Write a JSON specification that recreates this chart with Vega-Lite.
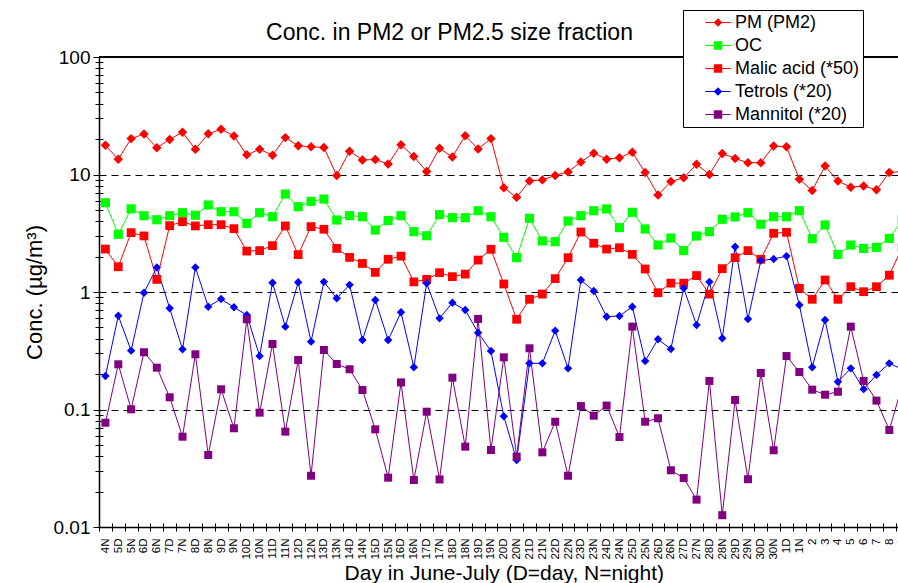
{
 "$schema": "https://vega.github.io/schema/vega-lite/v6.json",
 "width": 799,
 "height": 470,
 "autosize": {"type": "none"},
 "padding": {"left": 99, "top": 57, "right": 0, "bottom": 56},
 "background": "white",
 "config": {"view": {"stroke": null}, "font": "Liberation Sans", "axis": {"labelFont": "Liberation Sans", "titleFont": "Liberation Sans", "labelColor": "black", "titleColor": "black", "titleFontWeight": "normal", "domainColor": "black", "tickColor": "black"}},
 "title": {"text": "Conc. in PM2 or PM2.5 size fraction", "fontSize": 23, "fontWeight": "normal", "font": "Liberation Sans", "color": "black", "anchor": "middle", "frame": "group", "dx": -49, "offset": -35},
 "data": {"values": [
  {"day":"4N","PM":17.7,"OC":5.75,"Malic":2.32,"Tetrols":0.193,"Mannitol":0.0772},
  {"day":"5D","PM":13.5,"OC":3.1,"Malic":1.64,"Tetrols":0.628,"Mannitol":0.2425},
  {"day":"5N","PM":20.2,"OC":5.1,"Malic":3.2,"Tetrols":0.317,"Mannitol":0.1004},
  {"day":"6D","PM":22.1,"OC":4.46,"Malic":3.0,"Tetrols":0.986,"Mannitol":0.307},
  {"day":"6N","PM":16.9,"OC":4.12,"Malic":1.28,"Tetrols":1.62,"Mannitol":0.227},
  {"day":"7D","PM":19.9,"OC":4.46,"Malic":3.67,"Tetrols":0.727,"Mannitol":0.127},
  {"day":"7N","PM":22.9,"OC":4.73,"Malic":3.97,"Tetrols":0.325,"Mannitol":0.0587},
  {"day":"8D","PM":16.4,"OC":4.5,"Malic":3.65,"Tetrols":1.62,"Mannitol":0.295},
  {"day":"8N","PM":22.2,"OC":5.5,"Malic":3.74,"Tetrols":0.75,"Mannitol":0.041},
  {"day":"9D","PM":24.3,"OC":4.82,"Malic":3.74,"Tetrols":0.872,"Mannitol":0.1486},
  {"day":"9N","PM":21.3,"OC":4.82,"Malic":3.46,"Tetrols":0.741,"Mannitol":0.0692},
  {"day":"10D","PM":14.7,"OC":3.84,"Malic":2.23,"Tetrols":0.637,"Mannitol":0.586},
  {"day":"10N","PM":16.4,"OC":4.73,"Malic":2.25,"Tetrols":0.285,"Mannitol":0.094},
  {"day":"11D","PM":14.6,"OC":4.37,"Malic":2.48,"Tetrols":1.2,"Mannitol":0.361},
  {"day":"11N","PM":20.6,"OC":6.82,"Malic":3.65,"Tetrols":0.507,"Mannitol":0.0648},
  {"day":"12D","PM":17.6,"OC":5.32,"Malic":2.08,"Tetrols":1.21,"Mannitol":0.264},
  {"day":"12N","PM":17.2,"OC":5.91,"Malic":3.6,"Tetrols":0.378,"Mannitol":0.0273},
  {"day":"13D","PM":17.0,"OC":6.18,"Malic":3.42,"Tetrols":1.22,"Mannitol":0.321},
  {"day":"13N","PM":9.8,"OC":4.1,"Malic":2.35,"Tetrols":0.884,"Mannitol":0.244},
  {"day":"14D","PM":15.8,"OC":4.46,"Malic":1.97,"Tetrols":1.15,"Mannitol":0.22},
  {"day":"14N","PM":13.3,"OC":4.37,"Malic":1.75,"Tetrols":0.39,"Mannitol":0.1466},
  {"day":"15D","PM":13.4,"OC":3.37,"Malic":1.47,"Tetrols":0.855,"Mannitol":0.0678},
  {"day":"15N","PM":12.3,"OC":4.06,"Malic":1.9,"Tetrols":0.39,"Mannitol":0.0263},
  {"day":"16D","PM":17.9,"OC":4.46,"Malic":2.02,"Tetrols":0.672,"Mannitol":0.17},
  {"day":"16N","PM":14.2,"OC":3.26,"Malic":1.22,"Tetrols":0.229,"Mannitol":0.0251},
  {"day":"17D","PM":10.6,"OC":3.01,"Malic":1.28,"Tetrols":1.186,"Mannitol":0.0958},
  {"day":"17N","PM":16.7,"OC":4.55,"Malic":1.46,"Tetrols":0.597,"Mannitol":0.0254},
  {"day":"18D","PM":14.1,"OC":4.29,"Malic":1.35,"Tetrols":0.811,"Mannitol":0.1866},
  {"day":"18N","PM":21.4,"OC":4.29,"Malic":1.42,"Tetrols":0.703,"Mannitol":0.0483},
  {"day":"19D","PM":16.5,"OC":4.92,"Malic":1.87,"Tetrols":0.45,"Mannitol":0.59},
  {"day":"19N","PM":20.2,"OC":4.37,"Malic":2.31,"Tetrols":0.315,"Mannitol":0.0452},
  {"day":"20D","PM":7.7,"OC":2.92,"Malic":1.17,"Tetrols":0.0875,"Mannitol":0.278},
  {"day":"20N","PM":6.4,"OC":1.96,"Malic":0.586,"Tetrols":0.0372,"Mannitol":0.0397},
  {"day":"21D","PM":8.8,"OC":4.24,"Malic":0.867,"Tetrols":0.247,"Mannitol":0.332},
  {"day":"21N","PM":9.0,"OC":2.72,"Malic":0.96,"Tetrols":0.247,"Mannitol":0.0432},
  {"day":"22D","PM":9.8,"OC":2.68,"Malic":1.3,"Tetrols":0.469,"Mannitol":0.0787},
  {"day":"22N","PM":10.5,"OC":4.02,"Malic":1.96,"Tetrols":0.224,"Mannitol":0.0273},
  {"day":"23D","PM":12.8,"OC":4.46,"Malic":3.24,"Tetrols":1.265,"Mannitol":0.107},
  {"day":"23N","PM":15.2,"OC":4.92,"Malic":2.6,"Tetrols":1.02,"Mannitol":0.0886},
  {"day":"24D","PM":13.5,"OC":5.09,"Malic":2.32,"Tetrols":0.616,"Mannitol":0.108},
  {"day":"24N","PM":13.9,"OC":3.53,"Malic":2.38,"Tetrols":0.625,"Mannitol":0.0583},
  {"day":"25D","PM":15.5,"OC":4.77,"Malic":2.09,"Tetrols":0.75,"Mannitol":0.507},
  {"day":"25N","PM":10.4,"OC":3.44,"Malic":1.57,"Tetrols":0.259,"Mannitol":0.0787},
  {"day":"26D","PM":6.7,"OC":2.51,"Malic":0.986,"Tetrols":0.396,"Mannitol":0.0842},
  {"day":"26N","PM":8.7,"OC":2.88,"Malic":1.19,"Tetrols":0.327,"Mannitol":0.0304},
  {"day":"27D","PM":9.4,"OC":2.25,"Malic":1.19,"Tetrols":1.075,"Mannitol":0.0261},
  {"day":"27N","PM":12.2,"OC":3.0,"Malic":1.38,"Tetrols":0.524,"Mannitol":0.0171},
  {"day":"28D","PM":10.0,"OC":3.26,"Malic":0.96,"Tetrols":1.22,"Mannitol":0.175},
  {"day":"28N","PM":15.1,"OC":4.16,"Malic":1.58,"Tetrols":0.404,"Mannitol":0.0126},
  {"day":"29D","PM":13.7,"OC":4.35,"Malic":1.96,"Tetrols":2.43,"Mannitol":0.1205},
  {"day":"29N","PM":12.6,"OC":4.73,"Malic":2.25,"Tetrols":0.589,"Mannitol":0.0255},
  {"day":"30D","PM":12.6,"OC":3.77,"Malic":1.9,"Tetrols":1.85,"Mannitol":0.2045},
  {"day":"30N","PM":17.5,"OC":4.37,"Malic":3.16,"Tetrols":1.91,"Mannitol":0.045},
  {"day":"1D","PM":17.2,"OC":4.37,"Malic":3.22,"Tetrols":2.02,"Mannitol":0.285},
  {"day":"1N","PM":9.1,"OC":4.92,"Malic":1.075,"Tetrols":0.775,"Mannitol":0.2085},
  {"day":"2","PM":7.3,"OC":2.84,"Malic":0.867,"Tetrols":0.229,"Mannitol":0.1475},
  {"day":"3","PM":11.8,"OC":3.72,"Malic":1.265,"Tetrols":0.578,"Mannitol":0.1336},
  {"day":"4","PM":8.8,"OC":2.09,"Malic":0.867,"Tetrols":0.172,"Mannitol":0.1417},
  {"day":"5","PM":7.8,"OC":2.51,"Malic":1.11,"Tetrols":0.224,"Mannitol":0.507},
  {"day":"6","PM":8.0,"OC":2.35,"Malic":1.006,"Tetrols":0.149,"Mannitol":0.175},
  {"day":"7","PM":7.4,"OC":2.4,"Malic":1.11,"Tetrols":0.197,"Mannitol":0.119},
  {"day":"8","PM":10.4,"OC":2.86,"Malic":1.39,"Tetrols":0.247,"Mannitol":0.0669},
  {"day":"9","PM":10.6,"OC":4.1,"Malic":2.4,"Tetrols":0.22,"Mannitol":0.16}
 ]},
 "transform": [{"fold": ["PM","OC","Malic","Tetrols","Mannitol"], "as": ["s","v"]}],
 "layer": [
  {
   "mark": {"type": "line", "strokeWidth": 1},
   "encoding": {
    "x": {"field": "day", "type": "nominal", "sort": null,
     "scale": {"type": "band", "domain": ["4N","5D","5N","6D","6N","7D","7N","8D","8N","9D","9N","10D","10N","11D","11N","12D","12N","13D","13N","14D","14N","15D","15N","16D","16N","17D","17N","18D","18N","19D","19N","20D","20N","21D","21N","22D","22N","23D","23N","24D","24N","25D","25N","26D","26N","27D","27N","28D","28N","29D","29N","30D","30N","1D","1N","2","3","4","5","6","7","8","9"], "range": [0, 809.6], "paddingInner": 0, "paddingOuter": 0},
     "axis": {"orient": "bottom", "title": "Day in June-July (D=day, N=night)", "titleFontSize": 21, "titlePadding": 3, "labelAngle": 270, "labelFontSize": 11.5, "labelPadding": 7, "labelOverlap": false, "tickBand": "extent", "tickSize": 4, "tickWidth": 1, "domainWidth": 1.5, "grid": false}},
    "y": {"field": "v", "type": "quantitative",
     "scale": {"type": "log", "domain": [0.01, 100], "nice": false},
     "axis": {"orient": "left", "title": "Conc. (µg/m³)", "titleFontSize": 22, "titlePadding": 7,
      "values": [0.01,0.02,0.03,0.04,0.05,0.06,0.07,0.08,0.09,0.1,0.2,0.3,0.4,0.5,0.6,0.7,0.8,0.9,1,2,3,4,5,6,7,8,9,10,20,30,40,50,60,70,80,90,100],
      "labelExpr": "indexof([0.01,0.1,1,10,100], datum.value) >= 0 ? format(datum.value, '~g') : ''",
      "labelFontSize": 19, "labelPadding": 3, "labelOverlap": false,
      "tickSize": {"condition": {"test": "indexof([0.01,0.1,1,10,100], datum.value) >= 0", "value": 6}, "value": 4},
      "tickWidth": 1, "domainWidth": 1.5,
      "grid": true, "gridColor": "black", "gridDash": [7, 5], "gridWidth": 1,
      "gridOpacity": {"condition": {"test": "indexof([0.1,1,10], datum.value) >= 0", "value": 1}, "value": 0}}},
    "color": {"field": "s", "type": "nominal",
     "scale": {"domain": ["PM","OC","Malic","Tetrols","Mannitol"], "range": ["#FF0000","#00FF00","#FF0000","#0000FF","#800080"]},
     "legend": {"orient": "none", "legendX": 584, "legendY": -47, "title": null, "labelFontSize": 18, "labelFont": "Liberation Sans", "labelColor": "black", "labelLimit": 500, "symbolType": "M-1.5,0H1.5", "symbolSize": 289, "symbolStrokeWidth": 1, "symbolOffset": 22.5, "labelOffset": 8, "padding": 3.5, "rowPadding": 5, "strokeColor": "black", "fillColor": "white",
      "labelExpr": "(datum.label == 'PM' ? 'PM (PM2)' : datum.label == 'Malic' ? 'Malic acid (*50)' : datum.label == 'Tetrols' ? 'Tetrols (*20)' : datum.label == 'Mannitol' ? 'Mannitol (*20)' : datum.label) + '\u00a0\u00a0\u00a0\u00a0'"}}
   }
  },
  {
   "mark": {"type": "point", "filled": true, "opacity": 1},
   "encoding": {
    "x": {"field": "day", "type": "nominal", "sort": null,
     "axis": {"orient": "bottom", "title": null, "labels": false, "domain": false, "grid": false, "tickBand": "extent", "tickSize": -4, "tickWidth": 1}},
    "y": {"field": "v", "type": "quantitative",
     "axis": {"orient": "left", "title": null, "labels": false, "domain": false, "grid": false,
      "values": [0.01,0.02,0.03,0.04,0.05,0.06,0.07,0.08,0.09,0.1,0.2,0.3,0.4,0.5,0.6,0.7,0.8,0.9,1,2,3,4,5,6,7,8,9,10,20,30,40,50,60,70,80,90,100],
      "tickSize": {"condition": {"test": "indexof([0.01,0.1,1,10,100], datum.value) >= 0", "value": -6}, "value": -4}, "tickWidth": 1}},
    "color": {"field": "s", "type": "nominal",
     "legend": {"orient": "none", "legendX": 584, "legendY": -47, "title": null, "labelFontSize": 18, "labelFont": "Liberation Sans", "labelLimit": 500, "symbolSize": 72, "symbolStrokeWidth": 0, "symbolOffset": 22.5, "labelOffset": 8, "padding": 3.5, "rowPadding": 5, "labelExpr": "'\u00a0'"}},
    "shape": {"field": "s", "type": "nominal",
     "scale": {"domain": ["PM","OC","Malic","Tetrols","Mannitol"], "range": ["diamond","square","square","diamond","square"]},
     "legend": {"orient": "none", "legendX": 584, "legendY": -47, "title": null, "labelFontSize": 18, "labelFont": "Liberation Sans", "labelLimit": 500, "symbolSize": 72, "symbolStrokeWidth": 0, "symbolOffset": 22.5, "labelOffset": 8, "padding": 3.5, "rowPadding": 5, "labelExpr": "'\u00a0'"}},
    "size": {"field": "s", "type": "nominal",
     "scale": {"domain": ["PM","OC","Malic","Tetrols","Mannitol"], "range": [90, 64, 64, 90, 64]}, "legend": null}
   }
  },
  {
   "mark": {"type": "rule", "color": "black", "strokeWidth": 1.5},
   "encoding": {"y": {"datum": 100, "type": "quantitative", "axis": null}}
  }
 ],
 "resolve": {"axis": {"x": "independent", "y": "independent"}, "legend": {"color": "independent", "shape": "independent"}}
}
